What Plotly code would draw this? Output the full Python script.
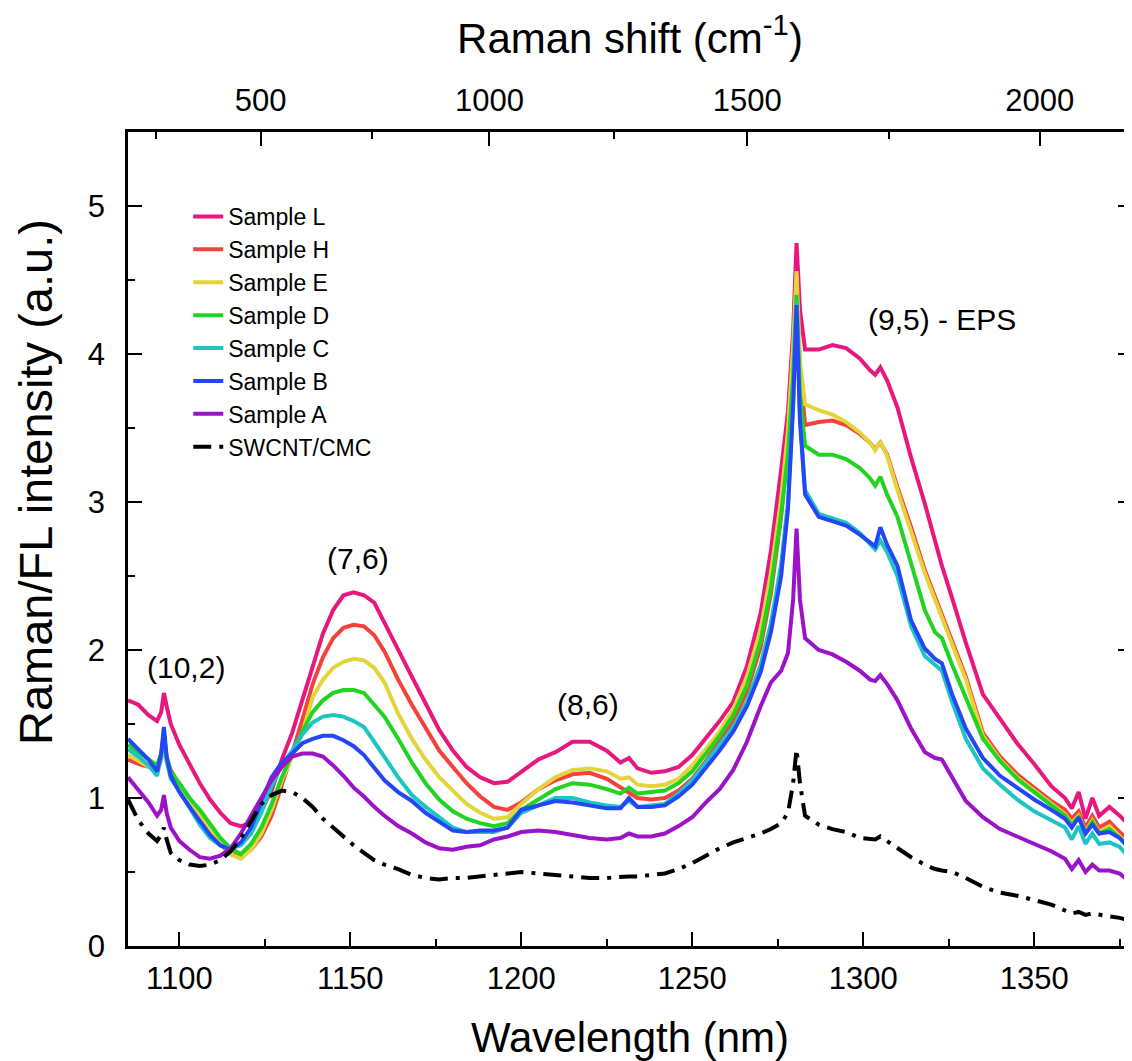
import plotly.graph_objects as go

# ---------------- data ----------------
wavelength_nm = [
    1085, 1088, 1091, 1093.5, 1094.7, 1095.5, 1096.3, 1097.5,
    1100, 1103, 1106, 1109, 1112, 1115, 1118, 1121, 1124, 1127,
    1130, 1133, 1136, 1139, 1142, 1145, 1148, 1151, 1154, 1157,
    1160, 1164, 1168, 1172, 1176, 1180, 1184, 1188, 1192, 1196,
    1200, 1205, 1210, 1215, 1220, 1225, 1229, 1231.5, 1234, 1238,
    1242, 1246, 1250, 1254, 1258, 1262, 1266, 1270, 1273, 1276,
    1278, 1279.5, 1280.5, 1281.5, 1283, 1287, 1291, 1295, 1299, 1302,
    1303.5, 1305, 1307, 1310, 1314, 1318, 1321, 1323, 1326, 1330,
    1335, 1340, 1345, 1350, 1355, 1359, 1361, 1363, 1365, 1367,
    1369, 1372, 1375, 1378.5,
]

sample_L = [
    1.66, 1.63, 1.56, 1.52, 1.58, 1.71, 1.62, 1.50,
    1.36, 1.23, 1.10, 0.99, 0.90, 0.83, 0.81, 0.83, 0.92, 1.05,
    1.26, 1.44, 1.66, 1.89, 2.11, 2.27, 2.37, 2.39, 2.37, 2.32,
    2.18, 2.00, 1.82, 1.64, 1.46, 1.32, 1.21, 1.14, 1.10, 1.11,
    1.18, 1.26, 1.31, 1.38, 1.38, 1.32, 1.24, 1.27, 1.20, 1.17,
    1.18, 1.21, 1.29, 1.40, 1.52, 1.65, 1.89, 2.25, 2.67, 3.22,
    3.61, 4.15, 4.75, 4.30, 4.03, 4.03, 4.06, 4.04, 3.97, 3.89,
    3.86, 3.91, 3.82, 3.64, 3.30, 2.99, 2.74, 2.57, 2.35, 2.05,
    1.70, 1.53, 1.37, 1.23, 1.08, 1.00, 0.93, 1.04, 0.86, 1.00,
    0.88, 0.94, 0.88, 0.80,
]
sample_H = [
    1.26, 1.23, 1.21, 1.19, 1.26, 1.40, 1.26, 1.19,
    1.09, 0.98, 0.90, 0.79, 0.69, 0.62, 0.61, 0.65, 0.74, 0.88,
    1.08, 1.30, 1.53, 1.77, 1.95, 2.08, 2.15, 2.17, 2.16, 2.10,
    1.99, 1.80, 1.63, 1.47, 1.32, 1.21, 1.10, 1.01, 0.94, 0.92,
    0.97, 1.06, 1.12, 1.16, 1.17, 1.13, 1.07, 1.04, 1.00, 0.99,
    1.00, 1.05, 1.13, 1.25, 1.38, 1.52, 1.72, 2.02, 2.38, 2.90,
    3.40, 3.95, 4.45, 3.90, 3.52, 3.54, 3.55, 3.52, 3.46, 3.40,
    3.36, 3.40, 3.32, 3.10, 2.83, 2.54, 2.36, 2.24, 2.07, 1.82,
    1.44, 1.28, 1.16, 1.07, 0.98, 0.92, 0.86, 0.91, 0.80, 0.88,
    0.80, 0.84, 0.77, 0.70,
]
sample_E = [
    1.29, 1.25, 1.21, 1.18, 1.26, 1.40, 1.25, 1.17,
    1.09, 0.98, 0.88, 0.78, 0.70, 0.62, 0.59, 0.65, 0.76, 0.92,
    1.12, 1.28, 1.44, 1.68, 1.80, 1.88, 1.92, 1.94, 1.93, 1.88,
    1.78, 1.57, 1.40, 1.26, 1.14, 1.05, 0.96, 0.90, 0.86, 0.87,
    0.96, 1.06, 1.14, 1.19, 1.20, 1.18, 1.13, 1.14, 1.09, 1.08,
    1.09, 1.13, 1.22, 1.33, 1.45, 1.60, 1.82, 2.14, 2.52, 3.02,
    3.48, 4.05, 4.56, 3.95, 3.66, 3.62, 3.59, 3.54, 3.47, 3.40,
    3.35, 3.41, 3.31, 3.08, 2.81, 2.52, 2.34, 2.22, 2.05, 1.80,
    1.42, 1.26, 1.14, 1.05, 0.96, 0.89, 0.83, 0.88, 0.77, 0.85,
    0.77, 0.81, 0.74, 0.67,
]
sample_D = [
    1.36, 1.31, 1.26, 1.22, 1.30, 1.42, 1.28, 1.18,
    1.10, 1.00, 0.92, 0.82, 0.73, 0.66, 0.62, 0.69, 0.80, 0.96,
    1.14, 1.30, 1.45, 1.58, 1.66, 1.71, 1.73, 1.73, 1.71, 1.63,
    1.55, 1.40, 1.24, 1.10, 0.99, 0.91, 0.86, 0.83, 0.81, 0.83,
    0.92, 0.99, 1.06, 1.10, 1.09, 1.06, 1.03, 1.07, 1.03, 1.04,
    1.05, 1.10, 1.18, 1.30, 1.42, 1.56, 1.76, 2.06, 2.42, 2.92,
    3.32, 3.85, 4.40, 3.72, 3.38, 3.32, 3.32, 3.29, 3.23, 3.16,
    3.11, 3.17, 3.05, 2.90, 2.58, 2.27, 2.12, 2.08, 1.90, 1.68,
    1.40, 1.25, 1.13, 1.04, 0.95, 0.88, 0.82, 0.87, 0.76, 0.84,
    0.76, 0.79, 0.73, 0.66,
]
sample_C = [
    1.33, 1.28, 1.22, 1.15, 1.28, 1.45, 1.25, 1.13,
    1.05, 0.93, 0.82, 0.73, 0.68, 0.66, 0.68, 0.76, 0.90, 1.08,
    1.22, 1.32, 1.43, 1.51, 1.55, 1.56, 1.55, 1.52, 1.48, 1.38,
    1.28, 1.14, 1.02, 0.94, 0.87, 0.80, 0.77, 0.77, 0.77, 0.80,
    0.90, 0.95, 1.00, 1.00, 0.97, 0.95, 0.94, 0.98, 0.94, 0.95,
    0.96, 1.03, 1.12, 1.24, 1.36, 1.48, 1.65, 1.90, 2.18, 2.58,
    3.00, 3.68, 4.35, 3.58, 3.08, 2.92, 2.89, 2.86, 2.79, 2.72,
    2.68, 2.74, 2.66, 2.50, 2.16, 1.96, 1.90, 1.86, 1.65, 1.40,
    1.20, 1.09, 0.99, 0.91, 0.85, 0.80, 0.72, 0.81, 0.69, 0.76,
    0.69, 0.70, 0.67, 0.58,
]
sample_B = [
    1.40, 1.33, 1.26, 1.18, 1.30, 1.48, 1.28, 1.15,
    1.04, 0.94, 0.84, 0.75, 0.68, 0.65, 0.70, 0.80, 0.98, 1.14,
    1.24, 1.30, 1.37, 1.40, 1.42, 1.42, 1.39, 1.35, 1.29, 1.20,
    1.12, 1.04, 0.98, 0.90, 0.84, 0.78, 0.77, 0.78, 0.78, 0.80,
    0.92, 0.95, 0.98, 0.97, 0.95, 0.93, 0.93, 1.00, 0.94, 0.94,
    0.95, 1.01, 1.09, 1.20, 1.32, 1.45, 1.62, 1.85, 2.12, 2.50,
    2.95, 3.65, 4.33, 3.55, 3.05, 2.90, 2.87, 2.84, 2.78, 2.73,
    2.70, 2.83, 2.71, 2.57, 2.20, 2.01, 1.94, 1.91, 1.70, 1.47,
    1.27, 1.15, 1.07, 0.99, 0.92, 0.86, 0.80, 0.87, 0.76, 0.82,
    0.76, 0.77, 0.73, 0.64,
]
sample_A = [
    1.14, 1.06, 0.97, 0.88, 0.92, 1.02, 0.90, 0.80,
    0.71, 0.65, 0.60, 0.59, 0.61, 0.66, 0.76, 0.88, 1.00, 1.12,
    1.21, 1.28, 1.30, 1.30, 1.28, 1.22, 1.15, 1.07, 1.01, 0.94,
    0.88, 0.81, 0.76, 0.70, 0.66, 0.65, 0.67, 0.68, 0.72, 0.74,
    0.77, 0.78, 0.77, 0.75, 0.73, 0.72, 0.73, 0.76, 0.74, 0.74,
    0.76, 0.81, 0.87, 0.97, 1.06, 1.19, 1.38, 1.62, 1.78, 1.86,
    1.98, 2.34, 2.82, 2.34, 2.08, 2.00, 1.97, 1.92, 1.86, 1.80,
    1.79, 1.83, 1.77, 1.66, 1.47, 1.31, 1.27, 1.26, 1.14, 0.98,
    0.87, 0.79, 0.74, 0.69, 0.64, 0.59, 0.52, 0.58, 0.50, 0.55,
    0.51, 0.51, 0.49, 0.42,
]
swcnt_cmc = [
    0.99, 0.85, 0.76, 0.71, 0.75, 0.80, 0.72, 0.63,
    0.58, 0.55, 0.54, 0.55, 0.58, 0.64, 0.73, 0.85, 0.96, 1.02,
    1.05, 1.04, 1.00, 0.94, 0.86, 0.80, 0.74, 0.68, 0.63, 0.58,
    0.55, 0.52, 0.48, 0.46, 0.45, 0.46, 0.46, 0.47, 0.48, 0.49,
    0.50, 0.49, 0.48, 0.47, 0.46, 0.46, 0.47, 0.47, 0.47, 0.48,
    0.49, 0.52, 0.56, 0.61, 0.66, 0.70, 0.73, 0.76, 0.79, 0.83,
    0.90, 1.10, 1.33, 1.10, 0.88, 0.82, 0.79, 0.77, 0.73, 0.72,
    0.72, 0.74, 0.71, 0.66, 0.60, 0.55, 0.52, 0.51, 0.50, 0.46,
    0.40, 0.36, 0.34, 0.31, 0.28, 0.24, 0.22, 0.23, 0.21, 0.22,
    0.21, 0.20, 0.19, 0.17,
]

series_names = ["Sample L", "Sample H", "Sample E", "Sample D",
                "Sample C", "Sample B", "Sample A", "SWCNT/CMC"]
series_values = [sample_L, sample_H, sample_E, sample_D,
                 sample_C, sample_B, sample_A, swcnt_cmc]
series_colors = ["#E8177D", "#F5413C", "#E3D43B", "#22D422",
                 "#1CC4C4", "#2447F5", "#9B12C8", "#000000"]

wl_ticks = [1100, 1150, 1200, 1250, 1300, 1350]
wl_minor = [1125, 1175, 1225, 1275, 1325, 1375]
y_ticks = [0, 1, 2, 3, 4, 5]
y_minor = [0.5, 1.5, 2.5, 3.5, 4.5]
raman_major = [500, 1000, 1500, 2000]
raman_minor = [250, 750, 1250, 1750]
LASER_NM = 1064.0

peak_labels = ["(10,2)", "(7,6)", "(8,6)", "(9,5) - EPS"]
peak_label_x = [1102.0, 1152.3, 1219.5, 1323.0]
peak_label_y = [1.885, 2.62, 1.63, 4.23]

X_RANGE = [1085, 1378.6]
Y_RANGE = [0, 5.5]


def raman_to_nm(shift):
    return 1e7 / (1e7 / LASER_NM - shift)


FONT = "Arial, Liberation Sans, Arimo, sans-serif"

fig = go.Figure()
for name, vals, col in zip(series_names, series_values, series_colors):
    if name == "SWCNT/CMC":
        line = dict(color=col, width=4, dash="18px,8px,4px,8px")
    else:
        line = dict(color=col, width=4)
    fig.add_trace(go.Scatter(x=wavelength_nm, y=vals, mode="lines",
                             name=name, line=line))

# empty trace so the secondary (top / right) axes get drawn
fig.add_trace(go.Scatter(x=[], y=[], xaxis="x2", yaxis="y2",
                         showlegend=False, hoverinfo="skip"))

axis_common = dict(showline=True, linecolor="black", linewidth=2.5,
                   ticks="inside", ticklen=14, tickwidth=2, tickcolor="black",
                   showgrid=False, zeroline=False, automargin=False,
                   tickfont=dict(family=FONT, size=31, color="black"))

# the page body adds an 8 px offset, so the figure is 8 px smaller on each
# axis and margins are reduced accordingly
fig.update_layout(
    width=1124, height=1053,
    margin=dict(l=120, r=0, t=124, b=115, autoexpand=False),
    paper_bgcolor="white", plot_bgcolor="white",
    font=dict(family=FONT, color="black"),
    xaxis=dict(range=X_RANGE, tickmode="array", tickvals=wl_ticks,
               ticktext=[str(v) for v in wl_ticks],
               minor=dict(tickmode="array", tickvals=wl_minor, ticks="inside",
                          ticklen=7, tickwidth=2, tickcolor="black"),
               ticklabelstandoff=3,
               title=dict(text="Wavelength (nm)", font=dict(size=42, family=FONT),
                          standoff=35),
               **axis_common),
    xaxis2=dict(range=X_RANGE, overlaying="x", side="top", anchor="y",
                tickmode="array",
                tickvals=[raman_to_nm(s) for s in raman_major],
                ticktext=[str(s) for s in raman_major],
                minor=dict(tickmode="array",
                           tickvals=[raman_to_nm(s) for s in raman_minor],
                           ticks="inside", ticklen=7, tickwidth=2,
                           tickcolor="black"),
                ticklabelstandoff=6,
                title=dict(text="Raman shift (cm<sup>-1</sup>)",
                           font=dict(size=42, family=FONT), standoff=18),
                **axis_common),
    yaxis=dict(range=Y_RANGE, tickmode="array", tickvals=y_ticks,
               ticktext=[str(v) for v in y_ticks],
               minor=dict(tickmode="array", tickvals=y_minor, ticks="inside",
                          ticklen=7, tickwidth=2, tickcolor="black"),
               ticklabelstandoff=14,
               **axis_common),
    yaxis2=dict(range=Y_RANGE, overlaying="y", side="right", anchor="x",
                showline=False, ticks="inside", ticklen=14, tickwidth=2,
                tickcolor="black", tickmode="array", tickvals=y_ticks,
                showticklabels=False, showgrid=False, zeroline=False,
                automargin=False,
                minor=dict(tickmode="array", tickvals=y_minor, ticks="inside",
                           ticklen=7, tickwidth=2, tickcolor="black")),
    legend=dict(x=0.060, y=0.9226, xanchor="left", yanchor="top",
                bgcolor="rgba(0,0,0,0)", borderwidth=0,
                font=dict(family=FONT, size=23, color="black"),
                tracegroupgap=0),
    showlegend=True,
)

# y-axis title (placed like the reference: left of the axis, above centre)
fig.add_annotation(x=-0.0926, y=0.570, xref="paper", yref="paper",
                   text="Raman/FL intensity (a.u.)", textangle=-90,
                   showarrow=False, xanchor="center", yanchor="middle",
                   font=dict(family=FONT, size=47, color="black"))

for txt, lx, ly in zip(peak_labels, peak_label_x, peak_label_y):
    fig.add_annotation(x=lx, y=ly, xref="x", yref="y", text=txt,
                       showarrow=False,
                       font=dict(family=FONT, size=30, color="black"))

fig.write_html("out.html")
